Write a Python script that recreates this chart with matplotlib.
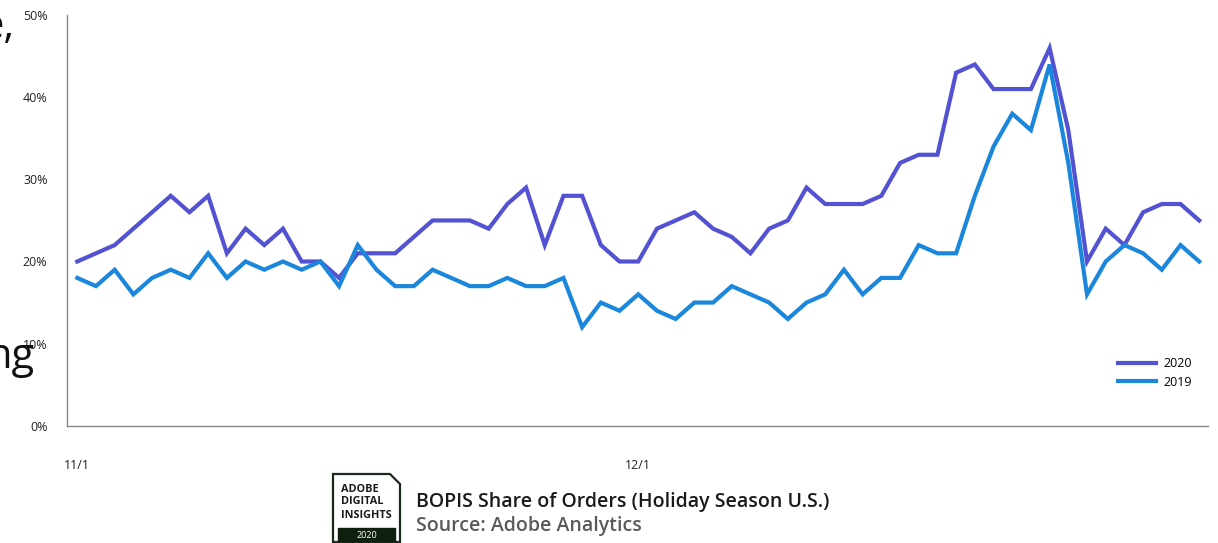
import numpy as np
import matplotlib
matplotlib.use("Agg")
import matplotlib.pyplot as plt
from matplotlib.patches import Polygon, Rectangle

plt.rcParams['font.family'] = ['Open Sans', 'DejaVu Sans']

# daily BOPIS share of orders, 11/1 .. 12/31 (percent)
share_2020 = [20, 21, 22, 24, 26, 28, 26, 28, 21, 24, 22, 24, 20, 20, 18, 21,
              21, 21, 23, 25, 25, 25, 24, 27, 29, 22, 28, 28, 22, 20, 20, 24,
              25, 26, 24, 23, 21, 24, 25, 29, 27, 27, 27, 28, 32, 33, 33, 43,
              44, 41, 41, 41, 46, 36, 20, 24, 22, 26, 27, 27, 25]
share_2019 = [18, 17, 19, 16, 18, 19, 18, 21, 18, 20, 19, 20, 19, 20, 17, 22,
              19, 17, 17, 19, 18, 17, 17, 18, 17, 17, 18, 12, 15, 14, 16, 14,
              13, 15, 15, 17, 16, 15, 13, 15, 16, 19, 16, 18, 18, 22, 21, 21,
              28, 34, 38, 36, 44, 32, 16, 20, 22, 21, 19, 22, 20]
series_names = ['2020', '2019']
series_colors = ['#5252d2', '#1b87dc']
xtick_pos = [0, 30]
xtick_labels = ['11/1', '12/1']
ytick_vals = [0, 10, 20, 30, 40, 50]

W, H = 1218, 543
fig = plt.figure(figsize=(W / 100, H / 100), dpi=100)
ax = fig.add_axes([67 / W, 1 - 425.7 / H, (1208 - 67) / W, (425.7 - 15.2) / H])

days = np.arange(len(share_2020))
for vals, name, col in zip([share_2020, share_2019], series_names, series_colors):
    ax.plot(days, vals, color=col, lw=3, label=name, solid_joinstyle='miter')

ax.set_xlim(-0.55, 60.47)
ax.set_ylim(0, 50)
ax.set_yticks(ytick_vals)
ax.set_yticklabels([f'{v}%' for v in ytick_vals])
ax.set_xticks(xtick_pos)
ax.set_xticklabels(xtick_labels)
ax.tick_params(axis='y', length=0, pad=14, labelsize=9, labelcolor='#222222')
ax.tick_params(axis='x', length=0, pad=24, labelsize=9, labelcolor='#222222')
for s in ['top', 'right']:
    ax.spines[s].set_visible(False)
for s in ['left', 'bottom']:
    ax.spines[s].set_color('#8a8a8a')
    ax.spines[s].set_linewidth(1.0)

ax.legend(loc='center left', bbox_to_anchor=(1118 / W, 1 - 373 / H),
          bbox_transform=fig.transFigure, frameon=False, fontsize=9,
          handlelength=3.0, handletextpad=0.65, labelspacing=0.45,
          borderpad=0, borderaxespad=0)

# overlay in pixel coordinates for footer / cropped slide text
ov = fig.add_axes([0, 0, 1, 1], zorder=-1)
ov.set_xlim(0, W)
ov.set_ylim(H, 0)
ov.axis('off')

ov.text(15, 38, 'e,', fontsize=30, ha='right', va='baseline', color='#111111')
ov.text(35, 368, 'ng', fontsize=30, ha='right', va='baseline', color='#111111')

# badge
ov.add_patch(Polygon([(333, 474), (390, 474), (400, 484), (400, 542), (333, 542)],
                     closed=True, fill=False, ec='#1a2a1a', lw=1.6))
ov.add_patch(Rectangle((338, 528), 57, 13, color='#0e1f10'))
for txt, yy in zip(['ADOBE', 'DIGITAL', 'INSIGHTS'], [489, 502, 515]):
    ov.text(341, yy, txt, fontsize=7.8, fontweight='bold', ha='left', va='center',
            color='#1a1a1a')
ov.text(366.5, 535, '2020', fontsize=6.5, ha='center', va='center', color='white')

ov.text(416, 502, 'BOPIS Share of Orders (Holiday Season U.S.)', fontsize=14,
        fontweight='semibold', ha='left', va='center', color='#1a1a1a')
ov.text(416, 526, 'Source: Adobe Analytics', fontsize=14, fontweight='semibold',
        ha='left', va='center', color='#5a5a5a')

fig.savefig('out.png', dpi=100)
